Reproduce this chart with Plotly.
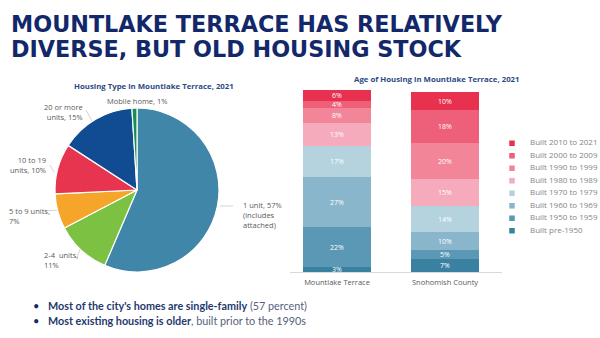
import plotly.graph_objects as go

# ---- data -------------------------------------------------------------
housing_types = ["1 unit", "2-4  units", "5 to 9 units", "10 to 19 units",
                 "20 or more units", "Mobile home"]
housing_share = [57, 11, 7, 10, 15, 1]
housing_colors = ["#3f86a9", "#7cc142", "#f4a52a", "#e8354f", "#114b92", "#138f55"]

places = ["Mountlake Terrace", "Snohomish County"]
age_labels = ["Built pre-1950", "Built 1950 to 1959", "Built 1960 to 1969",
              "Built 1970 to 1979", "Built 1980 to 1989", "Built 1990 to 1999",
              "Built 2000 to 2009", "Built 2010 to 2021"]
age_mountlake = [3, 22, 27, 17, 13, 8, 4, 6]
age_snohomish = [7, 5, 10, 14, 15, 20, 18, 10]
age_colors = ["#3a80a1", "#5a98b5", "#8ab6cb", "#b4d3df",
              "#f6abbc", "#f38599", "#ee5f79", "#e8304f"]

W, H = 600, 338
NAVY = "#13286a"
GRAY = "#5a5a5a"


def px(x):
    return x / W


def py(y):
    return 1 - y / H


fig = go.Figure()

# ---- pie: housing type ---------------------------------------------------
pie_cx, pie_cy, pie_r = 137, 190, 82
fig.add_trace(go.Pie(
    labels=housing_types, values=housing_share, sort=False,
    direction="clockwise", rotation=0,
    marker=dict(colors=housing_colors, line=dict(color="white", width=1.2)),
    textinfo="none", hoverinfo="label+percent", showlegend=False,
    domain=dict(x=[px(pie_cx - pie_r), px(pie_cx + pie_r)],
                y=[py(pie_cy + pie_r), py(pie_cy - pie_r)]),
))

# ---- stacked bars: age of housing ---------------------------------------
for i, lab in enumerate(age_labels):
    vals = [age_mountlake[i], age_snohomish[i]]
    fig.add_trace(go.Bar(
        x=places, y=vals, name=lab, marker_color=age_colors[i],
        marker_line=dict(width=0),
        text=[f"{v}%" for v in vals], textposition="inside",
        insidetextanchor="middle", textangle=0,
        textfont=dict(color="white", size=7, family="Open Sans"),
        width=0.63, showlegend=False, xaxis="x", yaxis="y",
        cliponaxis=False,
    ))

# custom legend drawn as a small scatter panel
n = len(age_labels)
fig.add_trace(go.Scatter(
    x=[0] * n, y=list(range(n)), mode="markers",
    marker=dict(symbol="square", size=5.5, color=age_colors),
    showlegend=False, hoverinfo="skip", xaxis="x2", yaxis="y2",
))
fig.add_trace(go.Scatter(
    x=[3.6] * n, y=list(range(n)), mode="text", text=age_labels,
    textposition="middle right",
    textfont=dict(size=8, color="#858585", family="Open Sans"),
    showlegend=False, hoverinfo="skip", xaxis="x2", yaxis="y2",
))

leg_top, leg_step = 143.3, 12.5
leg_bottom = leg_top + leg_step * (n - 1)

fig.update_layout(
    width=W, height=H, margin=dict(l=0, r=0, t=0, b=0),
    paper_bgcolor="white", plot_bgcolor="white",
    barmode="stack", bargap=0,
    uniformtext=dict(minsize=7, mode="show"),
    xaxis=dict(domain=[px(283), px(499)], range=[-0.5, 1.5],
               showgrid=False, zeroline=False, showline=False,
               tickfont=dict(size=7.5, color=GRAY, family="Open Sans"),
               ticks="", ticklen=0, ticklabelstandoff=4),
    yaxis=dict(domain=[py(272), py(90)], range=[0, 100], visible=False),
    xaxis2=dict(domain=[px(505), px(600)], range=[-1.4, 17.6], visible=False),
    yaxis2=dict(domain=[py(leg_bottom + 6), py(leg_top - 6)],
                range=[-6 / leg_step, n - 1 + 6 / leg_step], visible=False),
    font=dict(family="Open Sans", color=GRAY),
)

# baseline under the bars
fig.add_shape(type="line", xref="paper", yref="paper",
              x0=px(290), x1=px(502), y0=py(272.5), y1=py(272.5),
              line=dict(color="#d9d9d9", width=1))

annotations = []


def note(text, x, y, size, color, xanchor="left", align="left", family="Open Sans"):
    annotations.append(dict(text=text, x=px(x), y=py(y), xref="paper", yref="paper",
                            xanchor=xanchor, yanchor="middle", align=align,
                            showarrow=False,
                            font=dict(family=family, size=size, color=color)))


# slide title
note("<b>MOUNTLAKE TERRACE HAS RELATIVELY</b>", 9, 24, 22.3, NAVY, family="DejaVu Sans")
note("<b>DIVERSE, BUT OLD HOUSING STOCK</b>", 9, 48.5, 22.3, NAVY, family="DejaVu Sans")

# chart titles
note("<b>Housing Type in Mountlake Terrace, 2021</b>", 154, 86, 7.8, "#2d4a86",
     xanchor="center", align="center")
note("<b>Age of Housing in Mountlake Terrace, 2021</b>", 437, 79, 7.8, "#2d4a86",
     xanchor="center", align="center")

# pie slice labels
pie_labels = [
    (f"1 unit, {housing_share[0]}%<br>(includes<br>attached)", 241, 215, "left"),
    (f"2-4  units,<br>{housing_share[1]}%", 42, 260, "left"),
    (f"5 to 9 units,<br>{housing_share[2]}%", 7, 216, "left"),
    (f"10 to 19<br>units, {housing_share[3]}%", 48, 165, "right"),
    (f"20 or more<br>units, {housing_share[4]}%", 85, 112, "right"),
    (f"Mobile home, {housing_share[5]}%", 137, 101.5, "center"),
]
for txt, xx, yy, al in pie_labels:
    note(txt, xx, yy, 7.5, GRAY, xanchor=al, align=al)

# leader lines for the pie labels
leaders = [
    [(220, 206), (233, 206)],
    [(77, 258), (80, 249)],
    [(46, 211), (57, 210)],
    [(50, 165), (54, 172)],
    [(86, 110), (92, 121)],
]
for (x0, y0), (x1, y1) in leaders:
    fig.add_shape(type="line", xref="paper", yref="paper",
                  x0=px(x0), y0=py(y0), x1=px(x1), y1=py(y1),
                  line=dict(color="#c8c8c8", width=0.8))

# bullet points
bullets = [
    ("Most of the city's homes are single-family", " (57 percent)", 305.5),
    ("Most existing housing is older", ", built prior to the 1990s", 320.5),
]
for bold, rest, yy in bullets:
    note("•", 31, yy, 11, NAVY, family="Lato")
    note(f"<b>{bold}</b><span style='color:#55627a'>{rest}</span>", 46, yy, 10.8,
         "#1f3a6e", family="Lato")

fig.update_layout(annotations=annotations)

fig.write_html("out.html")
